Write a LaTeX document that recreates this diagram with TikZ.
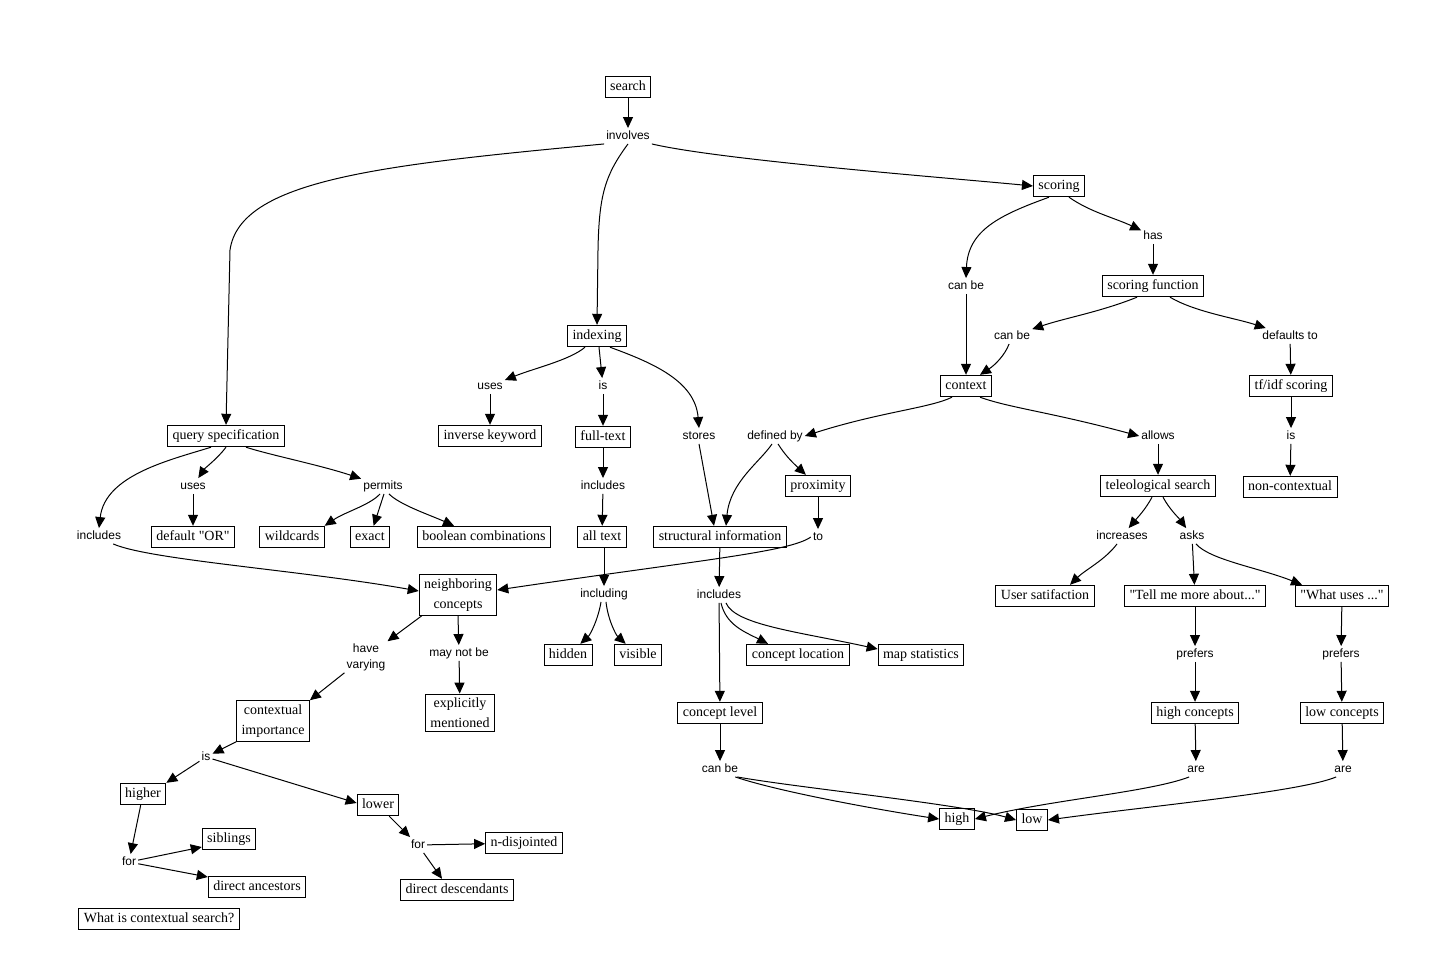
\documentclass[tikz,border=0pt]{standalone}
\usepackage{fontspec}
\setmainfont{Liberation Serif}[Ligatures=TeXOff]
\setsansfont{Liberation Sans}
\usetikzlibrary{arrows.meta}
\begin{document}
\begin{tikzpicture}[x=1pt,y=-1pt,
  box/.style={draw,line width=0.9pt,font=\fontsize{14}{18}\selectfont,inner xsep=5pt,inner ysep=4pt,text height=10pt,text depth=3.5pt},
  boxtwo/.style={draw,line width=0.9pt,font=\fontsize{14}{20}\selectfont,align=center,inner xsep=5pt,inner ysep=4pt},
  lbl/.style={font=\sffamily\fontsize{12}{14}\selectfont,inner sep=2pt,text height=9pt,text depth=2.5pt},
  lbltwo/.style={font=\sffamily\fontsize{12}{16}\selectfont,inner sep=2pt,align=center},
  arr/.style={line width=1pt,-{Triangle[length=11pt,width=10pt]}},
  ln/.style={line width=1pt}]
\useasboundingbox (0,0) rectangle (1431,970);
% concepts
\node[box] (search) at (628,87) {search};
\node[box] (query) at (226,436) {query specification};
\node[box] (indexing) at (597,336) {indexing};
\node[box] (scoring) at (1059,186) {scoring};
\node[box] (sfunc) at (1153,286) {scoring function};
\node[box] (context) at (966,386) {context};
\node[box] (tfidf) at (1291,386) {tf/idf scoring};
\node[box] (teleo) at (1158,486) {teleological search};
\node[box] (noncont) at (1290,487) {non-contextual};
\node[box] (inverse) at (490,436) {inverse keyword};
\node[box] (fulltext) at (603,437) {full-text};
\node[box] (proximity) at (818,486) {proximity};
\node[box] (alltext) at (602,537) {all text};
\node[box] (struct) at (720,537) {structural information};
\node[box] (defaultor) at (193,537) {default "OR"};
\node[box] (wildcards) at (292,537) {wildcards};
\node[box] (exact) at (370,537) {exact};
\node[box] (boolean) at (484,537) {boolean combinations};
\node[boxtwo] (neigh) at (458,595) {neighboring\\concepts};
\node[box] (usersat) at (1045,596) {User satifaction};
\node[box] (tell) at (1195,596) {"Tell me more about..."};
\node[box] (what) at (1342,596) {"What uses ..."};
\node[box] (hidden) at (568,655) {hidden};
\node[box] (visible) at (638,655) {visible};
\node[box] (concloc) at (798,655) {concept location};
\node[box] (mapstat) at (921,655) {map statistics};
\node[boxtwo] (ctximp) at (273,721) {contextual\\importance};
\node[boxtwo] (explicit) at (460,713) {explicitly\\mentioned};
\node[box] (conclevel) at (720,713) {concept level};
\node[box] (highc) at (1195,713) {high concepts};
\node[box] (lowc) at (1342,713) {low concepts};
\node[box] (higher) at (143,794) {higher};
\node[box] (lower) at (378,805) {lower};
\node[box] (high) at (957,819) {high};
\node[box] (low) at (1032,820) {low};
\node[box] (siblings) at (229,839) {siblings};
\node[box] (ndisj) at (524,843) {n-disjointed};
\node[box] (ancestors) at (257,887) {direct ancestors};
\node[box] (desc) at (457,890) {direct descendants};
\node[box] (title) at (159,919) {What is contextual search?};
% linking phrases
\node[lbl] (involves) at (628,136) {involves};
\node[lbl] (has) at (1153,236) {has};
\node[lbl] (canbeA) at (966,286) {can be};
\node[lbl] (canbeB) at (1012,336) {can be};
\node[lbl] (defaults) at (1290,336) {defaults to};
\node[lbl] (definedby) at (775,436) {defined by};
\node[lbl] (allows) at (1158,436) {allows};
\node[lbl] (isB) at (1291,436) {is};
\node[lbl] (usesA) at (490,386) {uses};
\node[lbl] (isA) at (603,386) {is};
\node[lbl] (stores) at (699,436) {stores};
\node[lbl] (includesA) at (603,486) {includes};
\node[lbl] (to) at (818,537) {to};
\node[lbl] (usesB) at (193,486) {uses};
\node[lbl] (permits) at (383,486) {permits};
\node[lbl] (includesC) at (99,536) {includes};
\node[lbl] (including) at (604,594) {including};
\node[lbl] (includesB) at (719,595) {includes};
\node[lbl] (incr) at (1122,536) {increases};
\node[lbl] (asks) at (1192,536) {asks};
\node[lbltwo] (havev) at (366,657) {have\\varying};
\node[lbl] (maynot) at (459,653) {may not be};
\node[lbl] (prefA) at (1195,654) {prefers};
\node[lbl] (prefB) at (1341,654) {prefers};
\node[lbl] (isC) at (206,757) {is};
\node[lbl] (canbeC) at (720,769) {can be};
\node[lbl] (areA) at (1196,769) {are};
\node[lbl] (areB) at (1343,769) {are};
\node[lbl] (forA) at (129,862) {for};
\node[lbl] (forB) at (418,845) {for};
% connectors
\draw[arr] (search) -- (involves);
\draw[arr] (involves.south west) .. controls (380,165) and (240,180) .. (230,250) -- (query.north);
\draw[arr] (involves.south) .. controls (605,175) and (599,195) .. (598,250) -- (indexing.north);
\draw[arr] (involves.south east) .. controls (720,160) and (950,178) .. (scoring.west);
\draw[arr] ([xshift=-10pt]scoring.south) .. controls (1000,215) and (968,230) .. (canbeA.north);
\draw[arr] (canbeA) -- (context);
\draw[arr] ([xshift=10pt]scoring.south) .. controls (1090,212) and (1115,218) .. (has);
\draw[arr] (has) -- (sfunc);
\draw[arr] ([xshift=-16pt]sfunc.south) .. controls (1100,312) and (1065,318) .. (canbeB);
\draw[arr] (canbeB) .. controls (1005,355) and (995,365) .. ([xshift=14pt]context.north);
\draw[arr] ([xshift=17pt]sfunc.south) .. controls (1195,312) and (1235,318) .. (defaults);
\draw[arr] (defaults) -- (tfidf);
\draw[arr] (tfidf) -- (isB);
\draw[arr] (isB) -- (noncont);
\draw[arr] ([xshift=-14pt]context.south) .. controls (930,408) and (880,412) .. (definedby.east);
\draw[arr] ([xshift=14pt]context.south) .. controls (1010,408) and (1050,412) .. (allows.west);
\draw[arr] (allows) -- (teleo);
\draw[arr] ([xshift=-3pt]definedby.south) .. controls (760,462) and (730,482) .. ([xshift=6pt]struct.north);
\draw[arr] ([xshift=3pt]definedby.south) .. controls (785,455) and (792,462) .. (proximity);
\draw[arr] (proximity) -- (to);
\draw[arr] (to.west) .. controls (790,552) and (700,560) .. ([yshift=5pt]neigh.east);
\draw[arr] ([xshift=-12pt]indexing.south) .. controls (570,360) and (535,368) .. (usesA);
\draw[arr] (usesA) -- (inverse);
\draw[arr] ([xshift=2pt]indexing.south) -- (isA);
\draw[arr] (isA) -- (fulltext);
\draw[arr] ([xshift=13pt]indexing.south) .. controls (650,362) and (695,380) .. (stores.north);
\draw[arr] (stores.south) -- ([xshift=-6pt]struct.north);
\draw[arr] (fulltext) -- (includesA);
\draw[arr] (includesA) -- (alltext);
\draw[arr] ([xshift=2pt]alltext.south) -- ([xshift=0pt]including.north);
\draw[arr] ([xshift=-3pt]including.south) .. controls (598,620) and (590,635) .. (hidden);
\draw[arr] ([xshift=2pt]including.south) .. controls (608,620) and (616,635) .. (visible);
\draw[arr] (struct) -- (includesB);
\draw[arr] ([xshift=2pt]includesB.south) .. controls (726,625) and (745,632) .. ([xshift=-30pt]concloc.north);
\draw[arr] ([xshift=7pt]includesB.south) .. controls (735,625) and (800,632) .. ([yshift=6pt]mapstat.west);
\draw[arr] (includesB) -- (conclevel);
\draw[arr] (conclevel) -- (canbeC);
\draw[arr] ([xshift=-5pt]canbeC.south east) .. controls (780,792) and (880,810) .. (high.west);
\draw[arr] ([xshift=-3pt]canbeC.south east) .. controls (800,788) and (960,804) .. (low.west);
\draw[arr] ([xshift=4pt]areA.south west) .. controls (1150,792) and (1050,800) .. (high.east);
\draw[arr] ([xshift=4pt]areB.south west) .. controls (1300,792) and (1150,806) .. (low.east);
\draw[arr] (query.south) .. controls (218,458) and (205,468) .. (usesB);
\draw[arr] (usesB) -- (defaultor);
\draw[arr] ([xshift=20pt]query.south) .. controls (270,455) and (320,465) .. (permits);
\draw[arr] ([xshift=-3pt]permits.south) .. controls (370,505) and (345,512) .. (wildcards.north east);
\draw[arr] ([xshift=1pt]permits.south) -- (exact);
\draw[arr] ([xshift=6pt]permits.south) .. controls (400,505) and (430,515) .. ([xshift=-30pt]boolean.north);
\draw[arr] ([xshift=-15pt]query.south) .. controls (170,460) and (105,475) .. (includesC.north);
\draw[arr] ([xshift=-10pt]includesC.south east) .. controls (150,560) and (300,570) .. ([yshift=4pt]neigh.west);
\draw[arr] ([xshift=3pt]neigh.south west) -- (havev.north east);
\draw[arr] (neigh.south) -- (maynot);
\draw[arr] (havev.south west) -- (ctximp.north east);
\draw[arr] (maynot) -- (explicit);
\draw[arr] (ctximp.south west) -- (isC);
\draw[arr] (isC) -- (higher.north east);
\draw[arr] (isC) -- ([yshift=2pt]lower.west);
\draw[arr] (higher) -- (forA);
\draw[arr] (forA) -- ([yshift=-8pt]siblings.west);
\draw[arr] (forA) -- ([yshift=10pt]ancestors.west);
\draw[arr] (lower) -- (forB);
\draw[arr] (forB) -- (ndisj);
\draw[arr] (forB) -- ([xshift=-15pt]desc.north);
\draw[arr] ([xshift=-6pt]teleo.south) .. controls (1145,510) and (1138,517) .. (incr);
\draw[arr] ([xshift=5pt]teleo.south) .. controls (1170,510) and (1178,517) .. (asks);
\draw[arr] ([xshift=-5pt]incr.south) .. controls (1105,560) and (1085,570) .. ([xshift=25pt]usersat.north);
\draw[arr] (asks) -- (tell);
\draw[arr] ([xshift=4pt]asks.south) .. controls (1210,560) and (1260,568) .. ([xshift=-40pt]what.north);
\draw[arr] (tell) -- (prefA);
\draw[arr] (prefA) -- (highc);
\draw[arr] (what) -- (prefB);
\draw[arr] (prefB) -- (lowc);
\draw[arr] (highc) -- (areA);
\draw[arr] (lowc) -- (areB);
\end{tikzpicture}
\end{document}
